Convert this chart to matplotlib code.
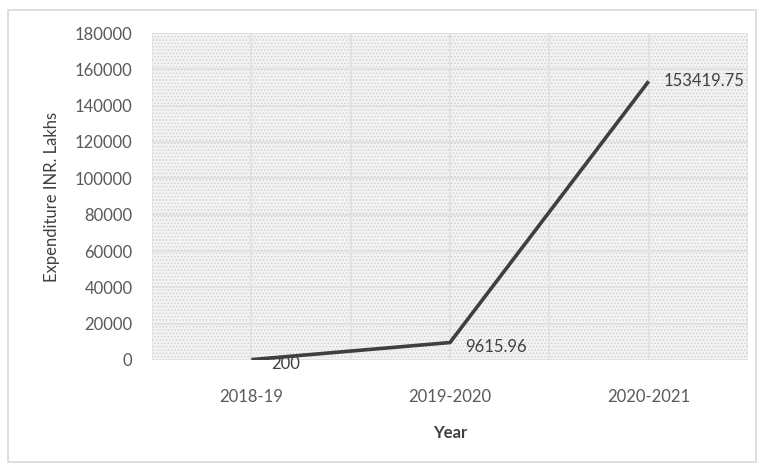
import matplotlib.pyplot as plt
from matplotlib.patches import Rectangle

years = ['2018-19', '2019-2020', '2020-2021']
expenditure = [200, 9615.96, 153419.75]
point_labels = ['200', '9615.96', '153419.75']

plt.rcParams['font.family'] = ['Lato', 'DejaVu Sans']
plt.rcParams['hatch.color'] = '#d4d4d4'
plt.rcParams['hatch.linewidth'] = 0.6

fig = plt.figure(figsize=(7.59, 4.66), dpi=100)
ax = fig.add_axes([152 / 759, 1 - 360 / 466, 596 / 759, 327 / 466])

# outer frame of the chart
fig.patches.append(Rectangle((8 / 759, 4 / 466), 748 / 759, 452 / 466,
                             transform=fig.transFigure, fill=False,
                             edgecolor='#d9d9d9', linewidth=1.2))

# dotted background of the plot area
ax.set_facecolor('#f3f3f3')
ax.add_patch(Rectangle((0, 0), 1, 1, transform=ax.transAxes, facecolor='none',
                       hatch='.....', edgecolor='#cfcfcf', linewidth=0, zorder=0))

x = list(range(len(years)))
ax.plot(x, expenditure, color='#3f3f3f', linewidth=2.6, zorder=3,
        solid_capstyle='butt')

# data labels
ax.annotate(point_labels[0], (x[0], expenditure[0]), xytext=(14, -3),
            textcoords='offset points', fontsize=12, color='#404040', va='center')
ax.annotate(point_labels[1], (x[1], expenditure[1]), xytext=(11, -3),
            textcoords='offset points', fontsize=12, color='#404040', va='center')
ax.annotate(point_labels[2], (x[2], expenditure[2]), xytext=(11, 0),
            textcoords='offset points', fontsize=12, color='#404040', va='center')

ax.set_xlim(-0.5, 2.5)
ax.set_ylim(0, 180000)
ax.set_yticks(range(0, 180001, 20000))
ax.set_xticks(x)
ax.set_xticklabels(years)
ax.set_xticks([-0.5, 0.5, 1.5, 2.5], minor=True)

ax.grid(True, which='both', color='#e0e0e0', linewidth=1.2, zorder=1)
ax.set_axisbelow(True)
for s in ax.spines.values():
    s.set_visible(False)
ax.tick_params(which='both', length=0)
ax.tick_params(axis='y', labelsize=12, labelcolor='#595959', pad=14)
ax.tick_params(axis='x', labelsize=12, labelcolor='#595959', pad=21)

ax.set_xlabel('Year', fontsize=12, fontweight='bold', color='#404040', labelpad=14)
ax.set_ylabel('Expenditure INR. Lakhs', fontsize=12, color='#404040', labelpad=11)

fig.savefig('out.png', dpi=100)
